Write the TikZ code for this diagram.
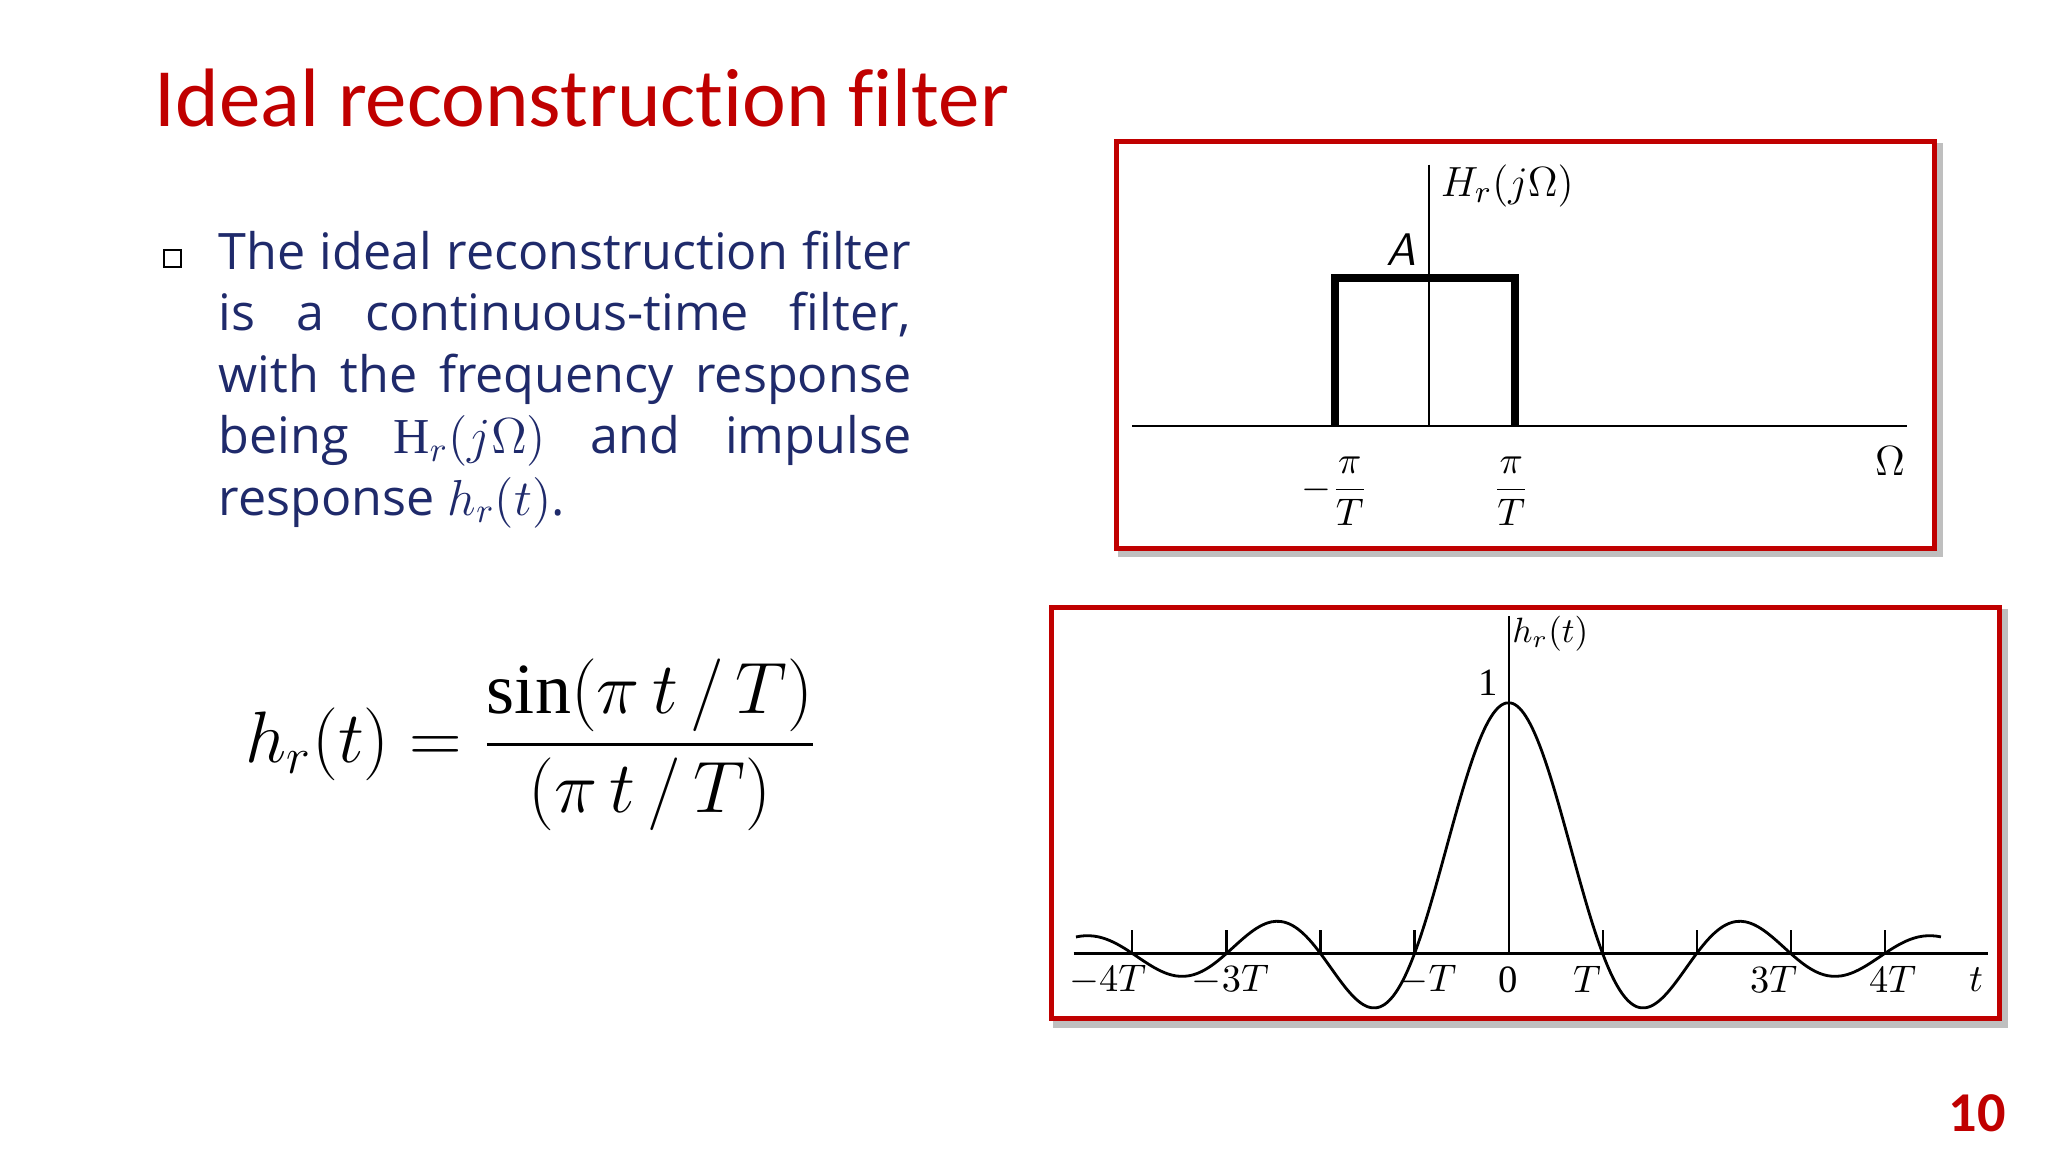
\documentclass[tikz,border=0pt]{standalone}
\usepackage{fontspec}
\usepackage{amsmath}
\setmainfont{Liberation Serif}
\newfontfamily\titlefont[Ligatures=NoCommon]{Carlito}
\newfontfamily\bodyfont{Open Sans}
\definecolor{tred}{HTML}{C00000}
\definecolor{navy}{HTML}{1F2A6B}
\tikzset{
 frame/.style={draw=tred,line width=1.4pt},
 shadowframe/.style={draw=black!25,line width=2pt},
 axisline/.style={line width=0.6pt},
 lbl/.style={inner sep=0pt,font=\fontsize{11}{13}\selectfont}
}
\begin{document}
\begin{tikzpicture}[x=0.01306cm,y=-0.01306cm]
\useasboundingbox (0,0) rectangle (1568,882);
% title
\node[anchor=base west,inner sep=0pt,text=tred,font=\titlefont\fontsize{23.6}{28}\selectfont] (title) at (118,97) {Ideal reconstruction filter};
% bullet
\node[inner sep=0pt,draw=black,line width=0.6pt,minimum size=5pt] (bul) at (132,198) {};
\node[anchor=north west,inner sep=0pt,text width=197pt,align=justify,text=navy,font=\bodyfont\fontsize{14.3}{17.5}\selectfont] (body) at (167,176)
{The ideal reconstruction filter\linebreak is a continuous-time filter,\linebreak with the frequency response\linebreak being $\mathrm{H}_r(j\Omega)$ and impulse\linebreak response $h_r(t)$.};
% formula
\node[inner sep=0pt,font=\fontsize{20.5}{24}\selectfont] (formula) at (407,570) {$h_r(t)=\dfrac{\sin(\pi\, t\,/\,T)}{(\pi\, t\,/\,T)}$};
% box 1
\draw[shadowframe] (859,112) rectangle (1485,424);
\draw[frame,fill=white] (855,108) coordinate (b1a) rectangle (1481,420) coordinate (b1b);
\coordinate (a1l) at (867,326); \coordinate (a1r) at (1460,326);
\coordinate (v1t) at (1094,126); \coordinate (v1b) at (1094,326);
\draw[axisline] (a1l) -- (a1r);
\draw[axisline] (v1t) -- (v1b);
\draw[line width=2.2pt] (1022,326) -- (1022,213) -- (1160,213) -- (1160,326);
\node[lbl,font=\fontsize{13}{15}\selectfont] (Hr) at (1154,142) {$H_r(j\Omega)$};
\node[lbl,font=\sffamily\itshape\fontsize{13}{15}\selectfont] (A) at (1073,191) {A};
\node[lbl] (mpi) at (1022,376) {$-\dfrac{\pi}{T}$};
\node[lbl] (ppi) at (1157,376) {$\dfrac{\pi}{T}$};
\node[lbl,font=\fontsize{13}{15}\selectfont] (Om) at (1447,353) {$\Omega$};
% box 2
\draw[shadowframe] (809,469) rectangle (1535,784);
\draw[frame,fill=white] (805,465) rectangle (1531,780);
\coordinate (a2l) at (822,730); \coordinate (a2r) at (1522,730);
\coordinate (v2t) at (1155,472); \coordinate (v2b) at (1155,730);
\draw[axisline] (a2l) -- (a2r);
\draw[axisline] (v2t) -- (v2b);
\foreach \k in {-4,-3,-2,-1,1,2,3,4} \draw[axisline] (1155+72*\k,730) -- (1155+72*\k,712);
\draw[line width=0.8pt,smooth] plot[domain=-4.6:4.6,samples=200] ({1155+72*\x},{730-192*sin(180*\x)/(3.14159*\x)});
\node[lbl,font=\fontsize{10}{12}\selectfont] (hr) at (1187,485) {$h_r(t)$};
\node[lbl] (one) at (1139,523) {1};
\node[lbl] (m4) at (848,750) {$-4T$};
\node[lbl] (m3) at (942,750) {$-3T$};
\node[lbl] (m1) at (1093,750) {$-T$};
\node[lbl] (z) at (1155,750) {0};
\node[lbl] (p1) at (1215,750) {$T$};
\node[lbl] (p3) at (1358,750) {$3T$};
\node[lbl] (p4) at (1449,750) {$4T$};
\node[lbl] (tt) at (1513,750) {$t$};
% page number
\node[inner sep=0pt,text=tred,font=\titlefont\bfseries\fontsize{16}{18}\selectfont] (pg) at (1514,852) {10};
\end{tikzpicture}
\end{document}
